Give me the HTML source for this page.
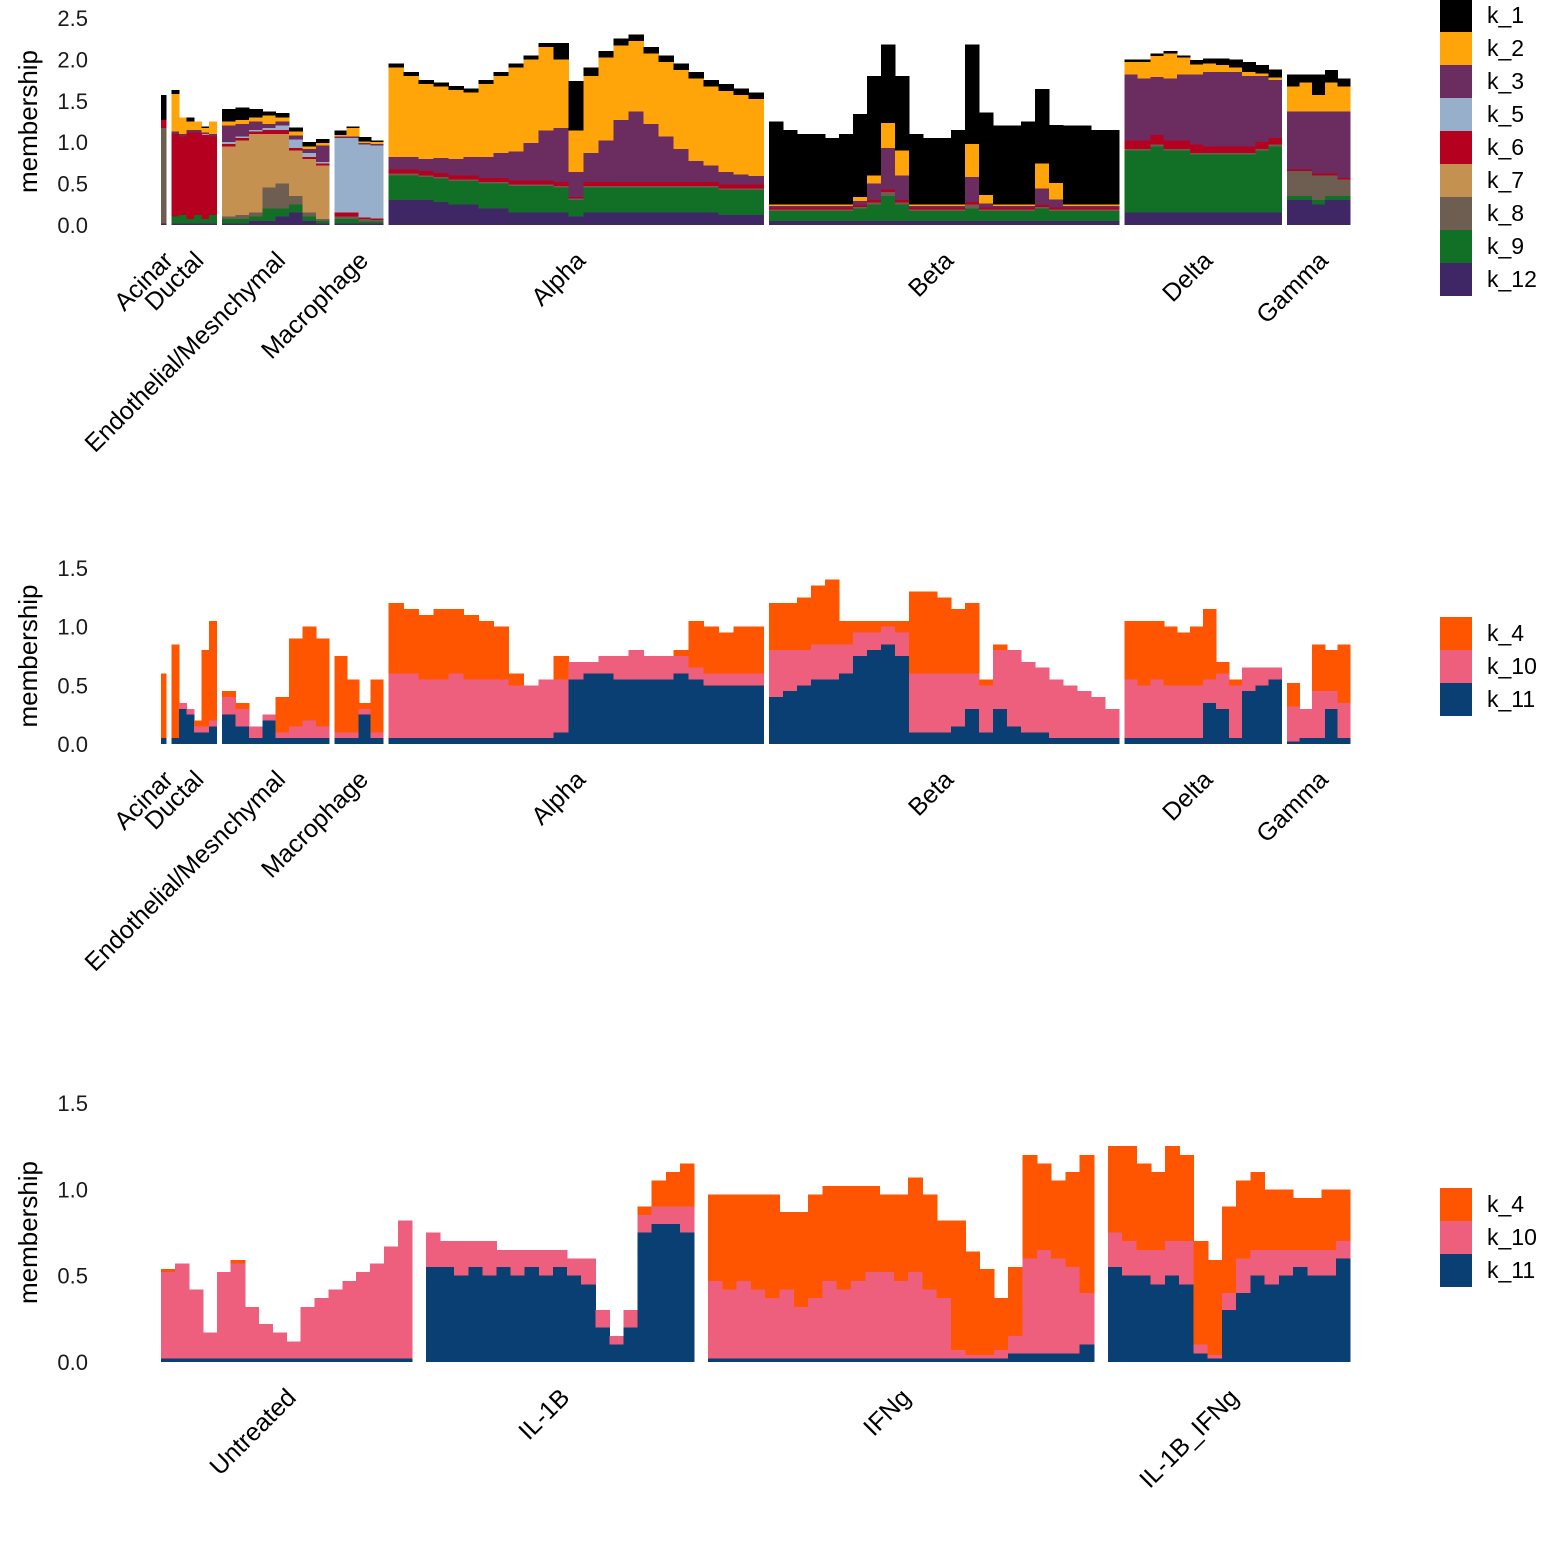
<!DOCTYPE html>
<html><head><meta charset="utf-8"><style>
html,body{margin:0;padding:0;background:#fff;}
svg{display:block;font-family:"Liberation Sans",Arial,sans-serif;}
</style></head><body>
<svg id="chart" width="1560" height="1560" viewBox="0 0 1560 1560" shape-rendering="crispEdges"></svg>
<script>
// ---------- Panel 1 data ----------
const p1Keys = ["k_12","k_9","k_8","k_7","k_6","k_5","k_3","k_2","k_1"];
const p1Colors = ["#3f2766","#127026","#6e5e52","#c49150","#b5001f","#98afcb","#6b2c5f","#ffa50a","#000000"];
const legend1Keys = ["k_1","k_2","k_3","k_5","k_6","k_7","k_8","k_9","k_12"];
const cellTypes = ["Acinar","Ductal","Endothelial/Mesnchymal","Macrophage","Alpha","Beta","Delta","Gamma"];
const cellTypeCounts = [5,45,107,48,375,350,157,63];
const p1Ticks = [0,0.5,1,1.5,2,2.5];
const p1Acinar = [[0.02,0,1.15,0,0.1,0,0,0,0.3]];
const p1Ductal = [[0.02,0.08,0,0,1.0,0,0.03,0.45,0.05],[0.02,0.1,0,0,0.95,0,0.03,0.2,0],[0.02,0.05,0,0,1.05,0,0.03,0.1,0.05],[0.02,0.1,0,0,1.0,0,0.03,0.1,0],[0.02,0.05,0,0,1.02,0,0.03,0.05,0.02],[0.02,0.1,0,0,0.95,0,0.03,0.15,0]];
const p1Endo = [[0.02,0.05,0.03,0.85,0.03,0.02,0.2,0.05,0.15],[0.02,0.05,0.05,0.9,0.03,0.02,0.15,0.05,0.15],[0.05,0.05,0.05,0.95,0.03,0.02,0.1,0.05,0.1],[0.05,0.15,0.25,0.65,0.05,0.02,0.05,0.1,0.05],[0.1,0.1,0.3,0.6,0.05,0.05,0.05,0.05,0.05],[0.15,0.1,0.1,0.55,0.03,0.1,0.05,0.05,0.05],[0.05,0.05,0.05,0.65,0.02,0.05,0.05,0.03,0.05],[0.02,0.03,0.02,0.65,0.02,0.02,0.2,0.03,0.05]];
const p1Macro = [[0.02,0.05,0.03,0,0.05,0.9,0.02,0.02,0.05],[0.02,0.05,0.03,0,0.05,0.9,0.02,0.1,0.02],[0.02,0.02,0.03,0,0.02,0.88,0.02,0.02,0.05],[0.02,0.02,0.02,0,0.02,0.88,0.02,0.02,0.02]];
const p1Alpha = [
[0.3,0.3,0.02,0,0.05,0,0.15,1.08,0.05],[0.3,0.3,0.02,0,0.05,0,0.15,0.98,0.05],[0.3,0.28,0.02,0,0.05,0,0.15,0.9,0.05],
[0.28,0.28,0.02,0,0.05,0,0.18,0.86,0.05],[0.25,0.28,0.02,0,0.05,0,0.2,0.83,0.05],[0.25,0.28,0.02,0,0.05,0,0.22,0.78,0.05],
[0.2,0.3,0.02,0,0.05,0,0.25,0.88,0.05],[0.2,0.3,0.02,0,0.05,0,0.3,0.93,0.05],[0.15,0.32,0.02,0,0.05,0,0.35,1.01,0.05],
[0.15,0.32,0.02,0,0.05,0,0.45,1.01,0.05],[0.15,0.32,0.02,0,0.05,0,0.6,1.01,0.05],[0.15,0.3,0.02,0,0.05,0,0.65,0.83,0.2],
[0.1,0.2,0.02,0,0.02,0,0.3,0.5,0.6],[0.15,0.3,0.02,0,0.05,0,0.35,0.93,0.1],[0.15,0.3,0.02,0,0.05,0,0.5,1.0,0.08],
[0.15,0.3,0.02,0,0.05,0,0.75,0.9,0.08],[0.15,0.3,0.02,0,0.05,0,0.85,0.85,0.08],[0.15,0.3,0.02,0,0.05,0,0.7,0.85,0.08],
[0.15,0.3,0.02,0,0.05,0,0.55,0.9,0.08],[0.15,0.3,0.02,0,0.05,0,0.4,0.95,0.08],[0.15,0.3,0.02,0,0.05,0,0.25,1.0,0.08],
[0.15,0.3,0.02,0,0.05,0,0.2,0.95,0.08],[0.12,0.3,0.02,0,0.05,0,0.15,0.98,0.08],[0.12,0.3,0.02,0,0.05,0,0.12,0.96,0.08],
[0.12,0.3,0.02,0,0.05,0,0.1,0.93,0.08]];
const p1Beta = [
[0.05,0.12,0.02,0,0.02,0,0.02,0.02,1.0],[0.05,0.12,0.02,0,0.02,0,0.02,0.02,0.9],[0.05,0.12,0.02,0,0.02,0,0.02,0.02,0.85],
[0.05,0.12,0.02,0,0.02,0,0.02,0.02,0.85],[0.05,0.12,0.02,0,0.02,0,0.02,0.02,0.8],[0.05,0.12,0.02,0,0.02,0,0.02,0.02,0.85],
[0.05,0.15,0.02,0,0.02,0,0.05,0.05,1.0],[0.05,0.2,0.02,0,0.03,0,0.2,0.1,1.2],[0.05,0.3,0.05,0,0.03,0,0.5,0.3,0.95],
[0.05,0.2,0.02,0,0.03,0,0.3,0.3,0.9],[0.05,0.12,0.02,0,0.02,0,0.02,0.02,0.85],[0.05,0.12,0.02,0,0.02,0,0.02,0.02,0.8],
[0.05,0.12,0.02,0,0.02,0,0.02,0.02,0.8],[0.05,0.12,0.02,0,0.02,0,0.02,0.02,0.9],[0.05,0.15,0.05,0,0.03,0,0.3,0.4,1.2],
[0.05,0.12,0.02,0,0.02,0,0.05,0.1,1.0],[0.05,0.12,0.02,0,0.02,0,0.02,0.02,0.95],[0.05,0.12,0.02,0,0.02,0,0.02,0.02,0.95],
[0.05,0.12,0.02,0,0.02,0,0.02,0.02,1.0],[0.05,0.15,0.02,0,0.02,0,0.2,0.3,0.9],[0.05,0.12,0.02,0,0.02,0,0.1,0.2,0.7],
[0.05,0.12,0.02,0,0.02,0,0.02,0.02,0.95],[0.05,0.12,0.02,0,0.02,0,0.02,0.02,0.95],[0.05,0.12,0.02,0,0.02,0,0.02,0.02,0.9],
[0.05,0.12,0.02,0,0.02,0,0.02,0.02,0.9]];
const p1Delta = [
[0.15,0.75,0.02,0,0.1,0,0.8,0.15,0.03],[0.15,0.75,0.02,0,0.1,0,0.75,0.2,0.03],[0.15,0.8,0.02,0,0.12,0,0.7,0.25,0.03],
[0.15,0.75,0.02,0,0.1,0,0.75,0.3,0.03],[0.15,0.75,0.02,0,0.1,0,0.8,0.2,0.03],[0.15,0.7,0.02,0,0.1,0,0.85,0.12,0.05],
[0.15,0.7,0.02,0,0.08,0,0.9,0.1,0.06],[0.15,0.7,0.02,0,0.08,0,0.9,0.08,0.08],[0.15,0.7,0.02,0,0.08,0,0.9,0.05,0.1],
[0.15,0.7,0.02,0,0.08,0,0.85,0.05,0.12],[0.15,0.75,0.02,0,0.08,0,0.8,0.03,0.1],[0.15,0.8,0.02,0,0.08,0,0.7,0.03,0.1]];
const p1Gamma = [[0.3,0.05,0.3,0,0.02,0,0.7,0.3,0.15],[0.3,0.05,0.3,0,0.02,0,0.7,0.35,0.1],[0.25,0.05,0.3,0,0.02,0,0.75,0.2,0.25],[0.3,0.05,0.25,0,0.02,0,0.75,0.35,0.15],[0.3,0.05,0.2,0,0.02,0,0.8,0.3,0.1]];
const p1Groups = [p1Acinar,p1Ductal,p1Endo,p1Macro,p1Alpha,p1Beta,p1Delta,p1Gamma];

// ---------- Panel 2 data (k_11, k_10, k_4) ----------
const p2Keys = ["k_11","k_10","k_4"];
const p2Colors = ["#093f73","#ee5f7e","#ff5400"];
const legend2Keys = ["k_4","k_10","k_11"];
const p2Ticks = [0,0.5,1,1.5];
const p2Acinar = [[0.05,0,0.55]];
const p2Ductal = [[0.05,0,0.8],[0.3,0.05,0],[0.25,0.05,0],[0.1,0.05,0.05],[0.1,0.05,0.65],[0.15,0.05,0.85]];
const p2Endo = [[0.25,0.15,0.05],[0.15,0.15,0.05],[0.05,0.1,0],[0.2,0.05,0],[0.05,0.05,0.3],[0.05,0.1,0.75],[0.05,0.15,0.8],[0.05,0.1,0.75]];
const p2Macro = [[0.05,0.05,0.65],[0.05,0.05,0.45],[0.25,0.05,0.05],[0.05,0.05,0.45]];
const p2Alpha = [[0.05,0.55,0.6],[0.05,0.55,0.55],[0.05,0.5,0.55],[0.05,0.5,0.6],[0.05,0.55,0.55],[0.05,0.5,0.55],[0.05,0.5,0.5],[0.05,0.5,0.45],[0.05,0.45,0.1],[0.05,0.45,0],[0.05,0.5,0],[0.1,0.45,0.2],[0.55,0.15,0],[0.6,0.1,0],[0.6,0.15,0],[0.55,0.2,0],[0.55,0.25,0],[0.55,0.2,0],[0.55,0.2,0],[0.6,0.15,0.05],[0.55,0.1,0.4],[0.5,0.1,0.4],[0.5,0.1,0.35],[0.5,0.1,0.4],[0.5,0.1,0.4]];
const p2Beta = [[0.4,0.4,0.4],[0.45,0.35,0.4],[0.5,0.3,0.45],[0.55,0.3,0.5],[0.55,0.3,0.55],[0.6,0.25,0.2],[0.75,0.2,0.1],[0.8,0.15,0.1],[0.85,0.15,0.05],[0.75,0.2,0.1],[0.1,0.5,0.7],[0.1,0.5,0.7],[0.1,0.5,0.65],[0.15,0.45,0.55],[0.3,0.3,0.6],[0.1,0.4,0.05],[0.3,0.5,0.05],[0.15,0.65,0],[0.1,0.6,0],[0.1,0.55,0],[0.05,0.5,0],[0.05,0.45,0],[0.05,0.4,0],[0.05,0.35,0],[0.05,0.25,0]];
const p2Delta = [[0.05,0.5,0.5],[0.05,0.45,0.55],[0.05,0.5,0.5],[0.05,0.45,0.5],[0.05,0.45,0.45],[0.05,0.45,0.5],[0.35,0.2,0.6],[0.3,0.3,0.1],[0.05,0.45,0.05],[0.45,0.2,0],[0.5,0.15,0],[0.55,0.1,0]];
const p2Gamma = [[0.02,0.3,0.2],[0.05,0.25,0],[0.05,0.4,0.4],[0.3,0.15,0.35],[0.05,0.3,0.5]];
const p2Groups = [p2Acinar,p2Ductal,p2Endo,p2Macro,p2Alpha,p2Beta,p2Delta,p2Gamma];

// ---------- Panel 3 data (k_11, k_10, k_4) ----------
const treatments = ["Untreated","IL-1B","IFNg","IL-1B_IFNg"];
const treatmentCounts = [251,268,386,242];
const p3Ticks = [0,0.5,1,1.5];
const p3Untreated = [[0.02,0.5,0.02],[0.02,0.55,0],[0.02,0.4,0],[0.02,0.15,0],[0.02,0.5,0],[0.02,0.55,0.02],[0.02,0.3,0],[0.02,0.2,0],[0.02,0.15,0],[0.02,0.1,0],[0.02,0.3,0],[0.02,0.35,0],[0.02,0.4,0],[0.02,0.45,0],[0.02,0.5,0],[0.02,0.55,0],[0.02,0.65,0],[0.02,0.8,0]];
const p3IL1B = [[0.55,0.2,0],[0.55,0.15,0],[0.5,0.2,0],[0.55,0.15,0],[0.5,0.2,0],[0.55,0.1,0],[0.5,0.15,0],[0.55,0.1,0],[0.5,0.15,0],[0.55,0.1,0],[0.5,0.1,0],[0.45,0.15,0],[0.2,0.1,0],[0.1,0.05,0],[0.2,0.1,0],[0.75,0.1,0.05],[0.8,0.1,0.15],[0.8,0.1,0.2],[0.75,0.15,0.25]];
const p3IFNg = [[0.02,0.45,0.5],[0.02,0.4,0.55],[0.02,0.45,0.5],[0.02,0.4,0.55],[0.02,0.35,0.6],[0.02,0.4,0.45],[0.02,0.3,0.55],[0.02,0.35,0.6],[0.02,0.45,0.55],[0.02,0.4,0.6],[0.02,0.45,0.55],[0.02,0.5,0.5],[0.02,0.5,0.45],[0.02,0.45,0.5],[0.02,0.5,0.55],[0.02,0.4,0.55],[0.02,0.35,0.45],[0.02,0.05,0.75],[0.02,0.02,0.6],[0.02,0.02,0.5],[0.02,0.05,0.3],[0.05,0.1,0.4],[0.05,0.55,0.6],[0.05,0.6,0.5],[0.05,0.55,0.45],[0.05,0.5,0.55],[0.1,0.3,0.8]];
const p3Both = [[0.55,0.2,0.5],[0.5,0.2,0.55],[0.5,0.15,0.5],[0.45,0.2,0.45],[0.5,0.2,0.55],[0.45,0.25,0.5],[0.05,0.05,0.6],[0.02,0.02,0.55],[0.3,0.1,0.5],[0.4,0.2,0.45],[0.5,0.15,0.45],[0.45,0.2,0.35],[0.5,0.15,0.35],[0.55,0.1,0.3],[0.5,0.15,0.3],[0.5,0.15,0.35],[0.6,0.1,0.3]];
const p3Groups = [p3Untreated,p3IL1B,p3IFNg,p3Both];

const NS = "http://www.w3.org/2000/svg";
const svg = document.getElementById("chart");
function mk(tag, attrs, parent){
  const e = document.createElementNS(NS, tag);
  for (const k in attrs) e.setAttribute(k, attrs[k]);
  parent.appendChild(e);
  return e;
}

function drawPanel(id, groupNames, counts, groups, keys, colors, ticks, y0, yTop, yMaxVal, legendKeys, legendTop){
  const g = mk("g", {}, svg);
  
  
  const xL = 161, xR = 1350;
  const total = counts.reduce((a,b)=>a+b,0);
  const gap = (xR - xL - total) / (counts.length - 1);
  const yScale = v => y0 - v * (y0 - yTop) / yMaxVal;
  ticks.forEach(t => {
    const tl = mk("text", {x:88, y:yScale(t)+8, "text-anchor":"end", "font-size":22, fill:"#1a1a1a"}, g);
    
    
    tl.textContent = t.toFixed(1);
  });
  const yc = (y0 + yTop) / 2;
  const yt = mk("text", {x:0, y:0, transform:`translate(37,${yc}) rotate(-90)`, "text-anchor":"middle", "font-size":26, fill:"#000"}, g);
  
  
  yt.textContent = "membership";
  let xs = xL;
  counts.forEach((c, gi) => {
    const bins = groups[gi];
    const bw = c / bins.length;
    const gg = mk("g", {}, g);
    
    
    bins.forEach((stack, bi) => {
      const x = xs + bi * bw;
      let cum = 0;
      stack.forEach((v, si) => {
        if (v <= 0) return;
        const yA = yScale(cum), yB = yScale(cum + v);
        const r = mk("rect", {x:x.toFixed(2), y:yB.toFixed(2), width:(bw+0.6).toFixed(2), height:(yA-yB).toFixed(2), fill:colors[si]}, gg);
        
        
        cum += v;
      });
    });
    const cx = xs + c / 2;
    const xl = mk("text", {x:0, y:0, transform:`translate(${cx+11},${y0+37}) rotate(-45)`, "text-anchor":"end", "font-size":25, fill:"#000"}, g);
    
    
    xl.textContent = groupNames[gi];
    xs += c + gap;
  });
  const lg = mk("g", {}, g);
  
  
  legendKeys.forEach((k, i) => {
    const y = legendTop + i * 33;
    const sw = mk("rect", {x:1440, y:y, width:32, height:33, fill:colors[keys.indexOf(k)]}, lg);
    
    
    const lt = mk("text", {x:1487, y:y+24, "font-size":23, fill:"#000"}, lg);
    
    
    lt.textContent = k;
  });
}

drawPanel("celltype-all", cellTypes, cellTypeCounts, p1Groups, p1Keys, p1Colors, p1Ticks, 225, 18, 2.5, legend1Keys, -1);
drawPanel("celltype-subset", cellTypes, cellTypeCounts, p2Groups, p2Keys, p2Colors, p2Ticks, 744, 568, 1.5, legend2Keys, 617);
drawPanel("treatment", treatments, treatmentCounts, p3Groups, p2Keys, p2Colors, p3Ticks, 1362, 1103, 1.5, legend2Keys, 1188);
</script>
</body></html>
